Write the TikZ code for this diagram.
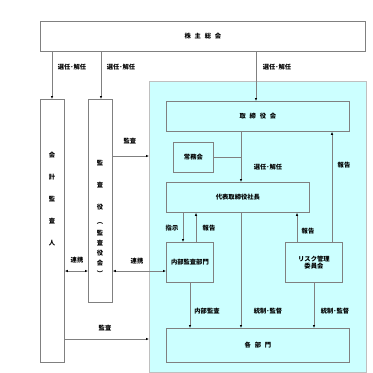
\documentclass[tikz,border=0pt]{standalone}
\usepackage{fontspec}
\setmainfont{Noto Sans CJK JP}
\usetikzlibrary{arrows.meta}
\definecolor{lc}{HTML}{808080}
\definecolor{cy}{HTML}{CCFFFF}
\begin{document}
\begin{tikzpicture}[x=1pt,y=-1pt,
  box/.style={draw=lc,line width=0.8pt,inner sep=0pt,anchor=north west,font=\fontsize{6.3}{7.5}\selectfont\bfseries,align=center},
  wbox/.style={box,fill=white},
  cbox/.style={box,fill=cy},
  lbl/.style={font=\fontsize{6.3}{7.5}\selectfont\bfseries,inner sep=1pt},
  arr/.style={draw=lc,line width=0.8pt,-{Latex[length=3pt,width=2.5pt,color=black]}},
  darr/.style={draw=lc,line width=0.8pt,{Latex[length=3pt,width=2.5pt,color=black]}-{Latex[length=3pt,width=2.5pt,color=black]}},
  ln/.style={draw=lc,line width=0.8pt}]
\useasboundingbox[fill=white] (0,0) rectangle (373,373);
% cyan region
\node[draw=lc!50,fill=cy,line width=0.8pt,anchor=north west,minimum width=217pt,minimum height=291pt,inner sep=0pt] (area) at (149,81) {};
% boxes
\node[wbox,minimum width=325pt,minimum height=30pt] (kabu) at (40,21) {株\hspace{0.6em}主\hspace{0.6em}総\hspace{0.6em}会};
\node[wbox,minimum width=24pt,minimum height=263pt] (kaikei) at (40,99) {};
\node[wbox,minimum width=24pt,minimum height=203pt] (kansa) at (88,99) {};
\node[cbox,minimum width=183pt,minimum height=30pt] (tori) at (166,101) {取\hspace{0.6em}締\hspace{0.6em}役\hspace{0.6em}会};
\node[cbox,minimum width=40pt,minimum height=30pt] (jokin) at (173,142) {常務会};
\node[cbox,minimum width=143pt,minimum height=30pt] (shacho) at (166,182) {代表取締役社長};
\node[cbox,minimum width=47pt,minimum height=40pt] (naibu) at (166,242) {内部監査部門};
\node[cbox,minimum width=57pt,minimum height=40pt] (risk) at (285,242) {リスク管理\\委員会};
\node[cbox,minimum width=183pt,minimum height=34pt] (kakubu) at (166,328) {各\hspace{0.6em}部\hspace{0.6em}門};
% vertical texts
\foreach \c/\y in {会/155,計/177,監/199,査/221,人/243}
  \node[lbl] at (52,\y) {\c};
\foreach \c/\y in {監/163,査/185,役/207,監/233,査/243,役/253,会/263}
  \node[lbl] at (100,\y) {\c};
\node[lbl,rotate=-90] at (100,222) {（};
\node[lbl,rotate=-90] at (100,274) {）};
% coordinates
\coordinate (k1) at (52,51); \coordinate (k2) at (101,51); \coordinate (k3) at (256,51);
\coordinate (t1) at (241,131); \coordinate (s1) at (241,182);
% arrows from 株主総会
\draw[arr] (kabu.south -| k1) -- (kaikei.north -| k1);
\draw[arr] (kabu.south -| k2) -- (kansa.north -| k2);
\draw[arr] (kabu.south -| k3) -- (tori.north -| k3);
\node[lbl] at (72,67) {選任･解任};
\node[lbl] at (121,67) {選任･解任};
\node[lbl] at (277,67) {選任･解任};
% 取締役会 -> 社長
\draw[arr] (t1) -- (s1);
\draw[ln] (jokin.east) -- (jokin.east -| t1);
\node[lbl] at (268,167) {選任･解任};
% report risk -> 取締役会
\draw[arr] (risk.north -| 332,0) -- (tori.south -| 332,0);
\node[lbl] at (344,165) {報告};
% 監査役 監査
\draw[arr] (kansa.east |- 0,156) -- (area.west |- 0,156);
\node[lbl] at (130,141) {監査};
% 社長 <-> 内部監査
\draw[arr] (shacho.south -| 183,0) -- (naibu.north -| 183,0);
\draw[arr] (naibu.north -| 196,0) -- (shacho.south -| 196,0);
\node[lbl] at (172,228) {指示};
\node[lbl] at (209,228) {報告};
% risk -> 社長
\draw[arr] (risk.north -| 297,0) -- (shacho.south -| 297,0);
\node[lbl] at (308,231) {報告};
% 連携
\draw[darr] (kaikei.east |- 0,271) -- (kansa.west |- 0,271);
\node[lbl] at (77,260) {連携};
\draw[darr] (kansa.east |- 0,271) -- (naibu.west |- 0,271);
\node[lbl] at (137,261) {連携};
% to 各部門
\draw[arr] (naibu.south -| 190,0) -- (kakubu.north -| 190,0);
\node[lbl] at (207,311) {内部監査};
\draw[arr] (shacho.south -| t1) -- (kakubu.north -| t1);
\node[lbl] at (268,311) {統制･監督};
\draw[arr] (risk.south -| 314,0) -- (kakubu.north -| 314,0);
\node[lbl] at (335,311) {統制･監督};
% 会計監査人 監査
\draw[arr] (kaikei.east |- 0,339) -- (area.west |- 0,339);
\node[lbl] at (105,328) {監査};
\end{tikzpicture}
\end{document}
